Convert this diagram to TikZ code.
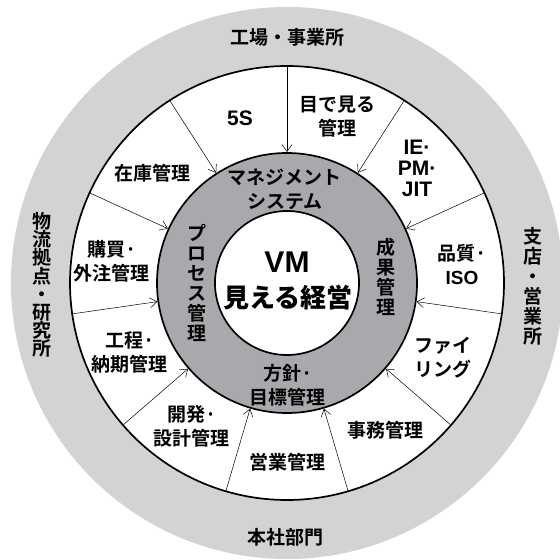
\documentclass[tikz,border=0pt]{standalone}
\usepackage{fontspec}
\setmainfont{Noto Sans CJK JP}
\newfontfamily\midfont{Noto Sans CJK JP Bold}
\newfontfamily\romfont{Liberation Sans Bold}
\newfontfamily\heavyfont{Noto Sans CJK JP Black}
\newfontfamily\heavyrom{Liberation Sans Bold}
\usetikzlibrary{arrows.meta}
\definecolor{bandgray}{RGB}{209,211,212}
\definecolor{ringgray}{RGB}{167,169,172}

\begin{document}
\begin{tikzpicture}[
    x=1pt, y=1pt,
    lbl/.style={align=center, inner sep=0pt, font=\midfont\fontsize{19}{24}\selectfont},
    vlbl/.style={align=center, inner sep=0pt, font=\midfont\fontsize{19}{20}\selectfont},
    rom/.style={align=center, inner sep=0pt, font=\romfont\fontsize{21}{21}\selectfont},
    feed/.style={line width=0.5pt, -{Straight Barb[length=7pt,width=10pt]}},
    rim/.style={line width=1.7pt},
  ]
  \useasboundingbox (-287,-277) rectangle (273,283);

  % rings
  \fill[bandgray] (0,0) circle (276);
  \draw[rim, fill=white] (0,0) circle (217);
  \draw[rim, fill=ringgray] (0,0) circle (130);
  \draw[rim, fill=white] (0,0) circle (72);

  % arrows from the outer ring into the system ring
  \foreach \k in {0,...,10}{
    \coordinate (o\k) at ({90-\k*360/11}:217);
    \coordinate (i\k) at ({90-\k*360/11}:131);
    \draw[feed] (o\k) -- (i\k);
  }

  % sites in the outer band
  \node[lbl] (kojo) at (1,246) {工場・事業所};
  \node[vlbl] (shiten) at (246,-3) {支\\店\\・\\営\\業\\所};
  \node[lbl] (honsha) at (-1,-254) {本社部門};
  \node[vlbl, font=\midfont\fontsize{19}{18.2}\selectfont] (butsuryu) at (-245,-2)
    {物\\流\\拠\\点\\・\\研\\究\\所};

  % activities
  \node[rom] (go) at (-47,165) {5S};
  \node[lbl] (mieru) at (51,166) {目で見る\\管理};
  \node[rom] (iepm) at (130,115) {IE·\\PM·\\JIT};
  \node[lbl] (hinshitsu) at (175,18) {品質·\\{\romfont ISO}};
  \node[lbl] (filing) at (156,-75) {ファイ\\リング};
  \node[lbl] (jimu) at (99,-147) {事務管理};
  \node[lbl] (eigyo) at (1,-179) {営業管理};
  \node[lbl] (kaihatsu) at (-95,-143) {開発·\\設計管理};
  \node[lbl] (kotei) at (-157,-69) {工程·\\納期管理};
  \node[lbl] (kobai) at (-175,22) {購買·\\外注管理};
  \node[lbl] (zaiko) at (-134,110) {在庫管理};

  % system ring
  \node[lbl] (system) at (-2,94) {マネジメント\\システム};
  \node[vlbl] (process) at (-90,0) {プ\\ロ\\セ\\ス\\管\\理};
  \node[vlbl] (seika) at (99,6) {成\\果\\管\\理};
  \node[lbl] (hoshin) at (1,-102) {方針·\\目標管理};

  % core
  \node[font=\heavyrom\fontsize{30}{30}\selectfont] (vm) at (0,21) {VM};
  \node[font=\heavyfont\fontsize{26}{26}\selectfont] (keiei) at (1,-15) {見える経営};
\end{tikzpicture}
\end{document}
